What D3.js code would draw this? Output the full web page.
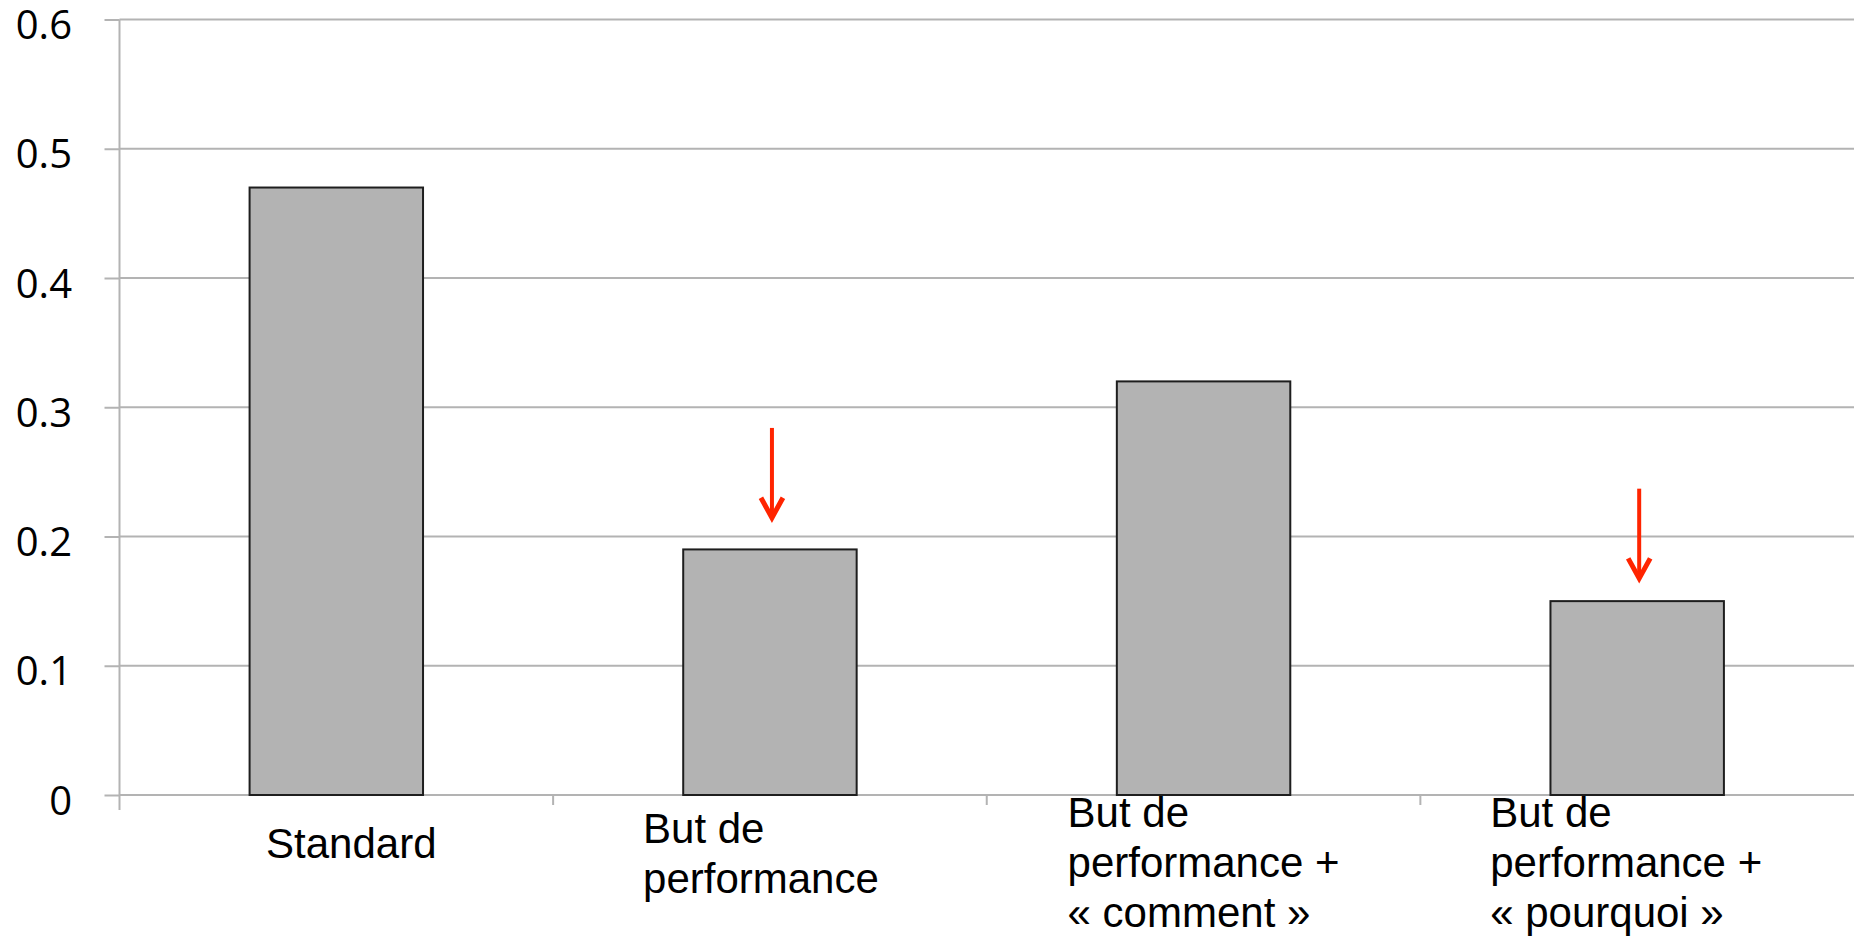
<!DOCTYPE html>
<html>
<head>
<meta charset="utf-8">
<script src="https://cdn.jsdelivr.net/npm/d3@7"></script>
<style>
body { margin: 0; background: #fff; }
</style>
</head>
<body>
<div class="container"></div>
<script>
var categories = ['Standard', 'But de\nperformance', 'But de\nperformance +\n« comment »', 'But de\nperformance +\n« pourquoi »'];
var values = [0.47, 0.19, 0.32, 0.15];
var yTicks = [0, 0.1, 0.2, 0.3, 0.4, 0.5, 0.6];
var yTickLabels = ['0', '0.1', '0.2', '0.3', '0.4', '0.5', '0.6'];

// red arrows pointing at two bars (values in data units)
var arrowCats = [1, 3];
var arrowFrom = [0.284, 0.237];
var arrowTo = [0.2145, 0.1676];

const WIDTH = 1854;
const HEIGHT = 937;
const LEFT = 119.5;
const TOP = 19.5;
const BOTTOM = 795;
// small horizontal shifts of the label blocks, as in the original
const LABEL_NUDGE = [15, -9, 0, -11];

var svg = d3.select('.container').append('svg')
	.attr('width', WIDTH)
	.attr('height', HEIGHT);

var xScale = d3.scaleBand()
	.domain(d3.range(categories.length))
	.range([LEFT, WIDTH]);

var yScale = d3.scaleLinear()
	.domain([0, 0.6])
	.range([BOTTOM, TOP]);

var step = xScale.bandwidth();

// gridlines
svg.append('g').selectAll('line').data(yTicks)
	.enter().append('line')
	.attr('x1', LEFT).attr('x2', WIDTH)
	.attr('y1', function(d){ return yScale(d); })
	.attr('y2', function(d){ return yScale(d); })
	.attr('stroke', '#b3b3b3')
	.attr('stroke-width', 2);

// y axis
var yAxis = d3.axisLeft(yScale)
	.tickValues(yTicks)
	.tickFormat(function(d, i){ return yTickLabels[i]; })
	.tickSize(15)
	.tickPadding(32.5);

var yg = svg.append('g')
	.attr('transform', 'translate(' + LEFT + ',0)')
	.call(yAxis);
yg.select('.domain').remove();
yg.selectAll('line').attr('stroke', '#b3b3b3').attr('stroke-width', 2);
yg.selectAll('text')
	.attr('font-family', '"Open Sans", sans-serif')
	.attr('font-size', 40)
	.attr('fill', '#000')
	.attr('dy', '0.475em');

svg.append('line')
	.attr('x1', LEFT).attr('x2', LEFT)
	.attr('y1', TOP).attr('y2', BOTTOM + 15)
	.attr('stroke', '#b3b3b3')
	.attr('stroke-width', 2);

// x axis ticks at category boundaries
var bounds = xScale.domain().map(function(i){ return xScale(i); }).slice(1);
svg.append('g').selectAll('line').data(bounds)
	.enter().append('line')
	.attr('x1', function(d){ return d; })
	.attr('x2', function(d){ return d; })
	.attr('y1', BOTTOM).attr('y2', BOTTOM + 10)
	.attr('stroke', '#b3b3b3')
	.attr('stroke-width', 2);

// bars
svg.append('g').selectAll('rect').data(values)
	.enter().append('rect')
	.attr('x', function(d, i){ return xScale(i) + step * 0.3; })
	.attr('width', step * 0.4)
	.attr('y', function(d){ return yScale(d); })
	.attr('height', function(d){ return yScale(0) - yScale(d); })
	.attr('fill', '#b3b3b3')
	.attr('stroke', '#1e1e1e')
	.attr('stroke-width', 2);

// category labels, left-aligned lines, block centred on band
var labels = svg.append('g').selectAll('text').data(categories)
	.enter().append('text')
	.attr('font-family', '"Liberation Sans", Arial, sans-serif')
	.attr('font-size', 42)
	.attr('fill', '#000');

labels.each(function(d, i){
	var lines = d.split('\n');
	var t = d3.select(this);
	var first = 858 - 15.5 * (lines.length - 1);
	lines.forEach(function(line, j){
		t.append('tspan').text(line).attr('y', first + j * 50);
	});
	var w = d3.max(t.selectAll('tspan').nodes(), function(n){ return n.getComputedTextLength(); });
	var left = xScale(i) + step / 2 - w / 2 + LABEL_NUDGE[i];
	t.selectAll('tspan').attr('x', left);
});

// arrows
var arrows = svg.append('g').selectAll('g').data(arrowCats)
	.enter().append('g');

arrows.append('line')
	.attr('x1', function(c){ return xScale(c) + step / 2 + 2; })
	.attr('x2', function(c){ return xScale(c) + step / 2 + 2; })
	.attr('y1', function(c, i){ return yScale(arrowFrom[i]); })
	.attr('y2', function(c, i){ return yScale(arrowTo[i]) - 3; })
	.attr('stroke', '#ff2400')
	.attr('stroke-width', 4);

arrows.append('path')
	.attr('d', function(c, i){
		var x = xScale(c) + step / 2 + 2;
		var y = yScale(arrowTo[i]);
		return 'M' + (x - 11) + ',' + (y - 20) + 'L' + x + ',' + y + 'L' + (x + 11) + ',' + (y - 20);
	})
	.attr('fill', 'none')
	.attr('stroke', '#ff2400')
	.attr('stroke-width', 5)
	.attr('stroke-linejoin', 'miter');
</script>
</body>
</html>
